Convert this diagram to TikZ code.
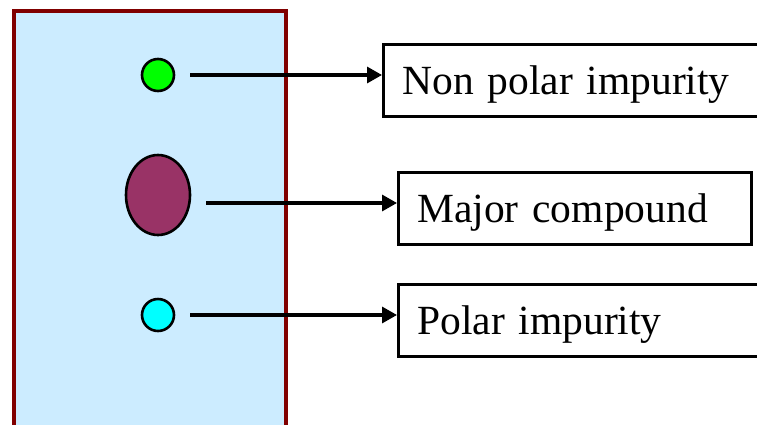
\documentclass[tikz,border=0pt]{standalone}
\usepackage{fontspec}
\setmainfont{Liberation Serif}
\usetikzlibrary{shapes.geometric,arrows.meta}
\definecolor{plate}{HTML}{CCECFF}
\definecolor{platerim}{HTML}{800000}
\definecolor{spotgreen}{HTML}{00FF00}
\definecolor{spotcyan}{HTML}{00FFFF}
\definecolor{spotmajor}{HTML}{993366}
\tikzset{
  spot/.style={draw=black, line width=2.6pt, inner sep=0pt},
  labelbox/.style={draw=black, line width=2.6pt, fill=white, anchor=north west,
    inner xsep=19pt, inner ysep=0pt, text height=50pt, text depth=22pt,
    align=left, font=\fontsize{41.5}{50}\selectfont},
  pointer/.style={line width=3.2pt, -{Triangle[length=15pt,width=16pt]}}
}
\begin{document}
\begin{tikzpicture}[x=1pt,y=-1pt]
\useasboundingbox (0,0) rectangle (757,424);
\clip (0,0) rectangle (757,424);
\fill[white] (0,0) rectangle (757,424);
% TLC plate
\draw[platerim, fill=plate, line width=3.2pt] (14,440) -- (14,11) -- (286,11) -- (286,440);
% spots
\node[spot, circle, fill=spotgreen, minimum size=32pt] (np) at (158,75) {};
\node[spot, ellipse, fill=spotmajor, minimum width=64pt, minimum height=80pt] (mj) at (158,195) {};
\node[spot, circle, fill=spotcyan, minimum size=32pt] (po) at (158,315) {};
% label boxes
\node[labelbox, text width=362pt] (bnp) at (382,43) {Non polar impurity};
\node[labelbox, text width=315pt] (bmj) at (397,171) {Major compound};
\node[labelbox, text width=362pt] (bpo) at (397,283) {Polar impurity};
% arrow start points
\coordinate (snp) at (190,75);
\coordinate (smj) at (206,203);
\coordinate (spo) at (190,315);
\draw[pointer] (snp) -- (snp -| bnp.west);
\draw[pointer] (smj) -- (smj -| bmj.west);
\draw[pointer] (spo) -- (spo -| bpo.west);
\end{tikzpicture}
\end{document}
